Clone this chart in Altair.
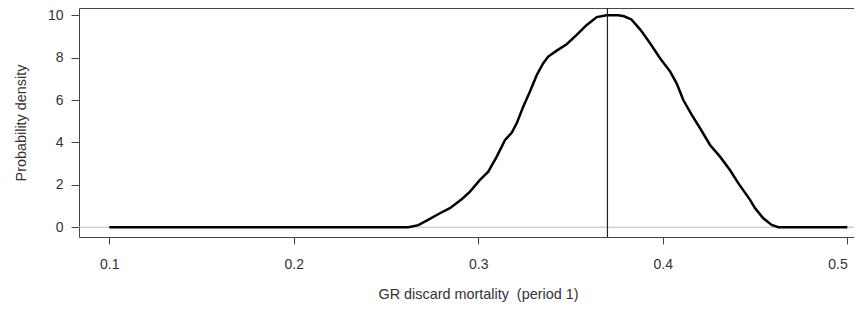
import altair as alt
import pandas as pd

# ---- data ----
mortality = [0.100, 0.200, 0.2621, 0.2675, 0.2720, 0.2792, 0.2846, 0.2910, 0.2955,
             0.3009, 0.3054, 0.3100, 0.3145, 0.3181, 0.3208, 0.3244, 0.3280,
             0.3317, 0.3352, 0.3379, 0.3425, 0.3479, 0.3533, 0.3588, 0.3642,
             0.3696, 0.3759, 0.3790, 0.3830, 0.3879, 0.3931, 0.3985, 0.4040,
             0.4075, 0.4111, 0.4157, 0.4202, 0.4256, 0.4310, 0.4364, 0.4409,
             0.4473, 0.4500, 0.4545, 0.4590, 0.4626, 0.500]
density = [0.0, 0.0, 0.0, 0.10, 0.31, 0.66, 0.90, 1.32, 1.68,
           2.23, 2.62, 3.33, 4.12, 4.45, 4.90, 5.69, 6.40,
           7.18, 7.74, 8.05, 8.33, 8.63, 9.07, 9.54, 9.91,
           10.0, 10.0, 9.95, 9.80, 9.31, 8.68, 7.97, 7.34,
           6.79, 6.00, 5.30, 4.67, 3.88, 3.33, 2.70, 2.08,
           1.29, 0.90, 0.42, 0.11, 0.0, 0.0]
vline_value = [0.370]
zero_line = [0.0]
x_ticks = [0.1, 0.2, 0.3, 0.4, 0.5]
y_ticks = [0, 2, 4, 6, 8, 10]
x_title = "GR discard mortality\u00a0 (period 1)"
y_title = "Probability density"

curve_df = pd.DataFrame({"x": mortality, "y": density})
vline_df = pd.DataFrame({"x": vline_value})
zero_df = pd.DataFrame({"y": zero_line})

W, H = 775, 229
FONT = "Liberation Sans"
TXT = "#333333"
AX = "#444444"

xscale = alt.Scale(domain=[0.08358, 0.50363], nice=False, zero=False)
yscale = alt.Scale(domain=[-0.46, 10.34], nice=False, zero=False)

x_axis = alt.Axis(values=x_ticks, format=".1f", title=x_title, grid=False,
                  tickSize=7, tickColor=AX, tickWidth=1,
                  domainColor=AX, domainWidth=1,
                  labelFont=FONT, labelFontSize=14, labelColor=TXT, labelPadding=13,
                  labelFlush=10,
                  titleFont=FONT, titleFontSize=14.4, titleFontWeight="normal",
                  titleColor=TXT, titleX=399, titleY=57, titleAlign="center",
                  titleBaseline="middle", titleAnchor="start")
y_axis = alt.Axis(values=y_ticks, format="d", title=y_title, grid=False,
                  tickSize=8, tickColor=AX, tickWidth=1,
                  domainColor=AX, domainWidth=1,
                  labelFont=FONT, labelFontSize=14, labelColor=TXT, labelPadding=8,
                  labelFlush=False,
                  titleFont=FONT, titleFontSize=14.4, titleFontWeight="normal",
                  titleColor=TXT, titleX=-58, titleY=H / 2, titleAlign="center",
                  titleBaseline="middle", titleAngle=270, titleAnchor="start")
top_axis = alt.Axis(orient="top", labels=False, ticks=False, grid=False, title=None,
                    domainColor=AX, domainWidth=1)

zero_rule = alt.Chart(zero_df).mark_rule(color="#bbbbbb", strokeWidth=1).encode(
    y=alt.Y("y:Q", scale=yscale, axis=y_axis)
)

curve = alt.Chart(curve_df).mark_line(color="black", strokeWidth=2.5, clip=True).encode(
    x=alt.X("x:Q", scale=xscale, axis=x_axis),
    y=alt.Y("y:Q", scale=yscale, axis=y_axis),
)

vline = alt.Chart(vline_df).mark_rule(color="#222222", strokeWidth=1.2).encode(
    x=alt.X("x:Q", scale=xscale, axis=top_axis)
)

chart = (
    alt.layer(zero_rule, curve, vline)
    .resolve_axis(x="independent")
    .properties(
        width=W, height=H,
        autosize=alt.AutoSizeParams(type="none"),
        padding={"left": 71, "top": 0, "right": 0, "bottom": 65},
        background="white",
    )
    .configure_view(stroke=None)
)

chart.save("out.html", embed_options={"renderer": "svg", "actions": False})
